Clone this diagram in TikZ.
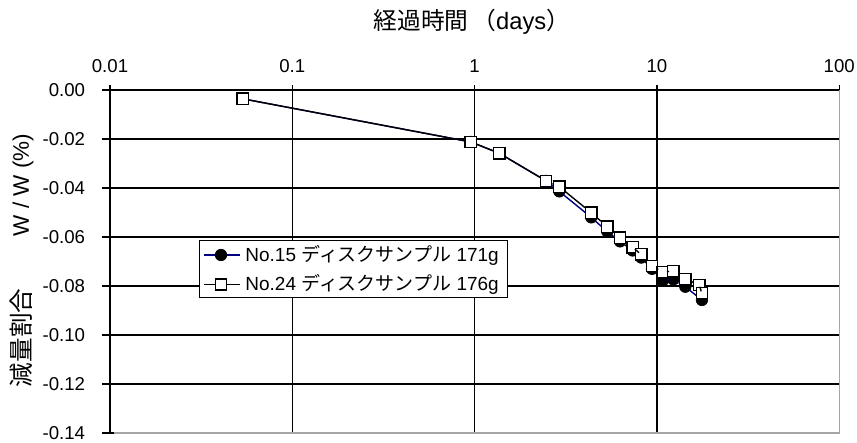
\documentclass[tikz,border=0pt]{standalone}
\usepackage{fontspec}
\setmainfont{Liberation Sans}
\newfontfamily\cjk{Noto Sans CJK JP}
\usepackage{xcolor}
\definecolor{ColA}{RGB}{0,0,128}
\definecolor{ColF}{RGB}{165,165,165}
\usepackage{tikz}
\tikzstyle{Grid}=[draw=black,line width=0.7pt]
\tikzstyle{Frame}=[draw=ColF,line width=0.8pt]
\tikzstyle{NodeC}=[circle,draw=black,fill=black,inner sep=0pt,
minimum size=0.23cm]
\tikzstyle{NodeS}=[rectangle,draw=black,fill=white,inner sep=0pt,
minimum size=0.225cm,line width=0.8pt]
\tikzstyle{EdgeA}=[draw=ColA,line width=0.8pt]
\tikzstyle{EdgeB}=[draw=black,line width=0.8pt]
\tikzstyle{NodeT}=[inner sep=0pt,font=\fontsize{10.6}{12}\selectfont]
\tikzstyle{NodeL}=[inner sep=0pt,anchor=west,font=\fontsize{10.8}{12}\selectfont]

\begin{document}
\begin{tikzpicture}[xscale=3.646,yscale=0.49]
        \useasboundingbox(-0.6034,3.673)rectangle(4.0977,-14.408);
        % grid
        \draw[Grid](0,-2)--(4,-2);
        \draw[Grid](0,-4)--(4,-4);
        \draw[Grid](0,-6)--(4,-6);
        \draw[Grid](0,-8)--(4,-8);
        \draw[Grid](0,-10)--(4,-10);
        \draw[Grid](0,-12)--(4,-12);
        \draw[Grid](1,0.2)--(1,-14);
        \draw[Grid](2,0.2)--(2,-14);
        \draw[Grid](3,0.2)--(3,-14);
        \draw[Frame](0,-14)--(4,-14)--(4,0);
        \draw[Grid](0,0.2)--(0,-14);
        \draw[Grid](4,0.2)--(4,0);
        \draw[Grid](-0.045,0)--(4,0);
        \draw[Grid](-0.045,-2)--(0,-2);
        \draw[Grid](-0.045,-4)--(0,-4);
        \draw[Grid](-0.045,-6)--(0,-6);
        \draw[Grid](-0.045,-8)--(0,-8);
        \draw[Grid](-0.045,-10)--(0,-10);
        \draw[Grid](-0.045,-12)--(0,-12);
        \draw[Grid](-0.045,-14)--(0.02,-14);
        % axis labels
        \node[NodeT](x0)at(0,0.98){0.01};
        \node[NodeT](x1)at(1,0.98){0.1};
        \node[NodeT](x2)at(2,0.98){1};
        \node[NodeT](x3)at(3,0.98){10};
        \node[NodeT](x4)at(4,0.98){100};
        \node[NodeT,anchor=east](y0)at(-0.135,0){0.00};
        \node[NodeT,anchor=east](y2)at(-0.135,-2){-0.02};
        \node[NodeT,anchor=east](y4)at(-0.135,-4){-0.04};
        \node[NodeT,anchor=east](y6)at(-0.135,-6){-0.06};
        \node[NodeT,anchor=east](y8)at(-0.135,-8){-0.08};
        \node[NodeT,anchor=east](y10)at(-0.135,-10){-0.10};
        \node[NodeT,anchor=east](y12)at(-0.135,-12){-0.12};
        \node[NodeT,anchor=east](y14)at(-0.135,-14){-0.14};
        \node[inner sep=0pt,font=\fontsize{13.5}{15}\selectfont](xt)at(1.985,2.776)
            {{\cjk 経過時間\,（}days{\cjk ）}};
        \node[inner sep=0pt,rotate=90,font=\fontsize{12.8}{14}\selectfont](yt)
            at(-0.477,-3.88){W / W (\%)};
        \node[inner sep=0pt,rotate=90,font=\fontsize{14}{16}\selectfont\cjk](yu)
            at(-0.488,-10.12){減量割合};
        % No.15
        \node[NodeC](b1)at(0.728,-0.36){};
        \node[NodeC](b2)at(1.979,-2.12){};
        \node[NodeC](b3)at(2.135,-2.58){};
        \node[NodeC](b4)at(2.392,-3.71){};
        \node[NodeC](b5)at(2.465,-4.14){};
        \node[NodeC](b6)at(2.640,-5.20){};
        \node[NodeC](b7)at(2.728,-5.78){};
        \node[NodeC](b8)at(2.798,-6.18){};
        \node[NodeC](b9)at(2.867,-6.55){};
        \node[NodeC](b10)at(2.914,-6.84){};
        \node[NodeC](b11)at(2.973,-7.30){};
        \node[NodeC](b12)at(3.032,-7.78){};
        \node[NodeC](b13)at(3.090,-7.73){};
        \node[NodeC](b14)at(3.156,-8.03){};
        \node[NodeC](b15)at(3.247,-8.57){};
        \draw[EdgeA](b1)--(b2);
        \draw[EdgeA](b2)--(b3);
        \draw[EdgeA](b3)--(b4);
        \draw[EdgeA](b4)--(b5);
        \draw[EdgeA](b5)--(b6);
        \draw[EdgeA](b6)--(b7);
        \draw[EdgeA](b7)--(b8);
        \draw[EdgeA](b8)--(b9);
        \draw[EdgeA](b9)--(b10);
        \draw[EdgeA](b10)--(b11);
        \draw[EdgeA](b11)--(b12);
        \draw[EdgeA](b12)--(b13);
        \draw[EdgeA](b13)--(b14);
        \draw[EdgeA](b14)--(b15);
        % No.24
        \node[NodeS](a1)at(0.728,-0.36){};
        \node[NodeS](a2)at(1.979,-2.12){};
        \node[NodeS](a3)at(2.135,-2.58){};
        \node[NodeS](a4)at(2.392,-3.71){};
        \node[NodeS](a5)at(2.465,-3.95){};
        \node[NodeS](a6)at(2.640,-5.01){};
        \node[NodeS](a7)at(2.728,-5.58){};
        \node[NodeS](a8)at(2.798,-6.03){};
        \node[NodeS](a9)at(2.867,-6.42){};
        \node[NodeS](a10)at(2.914,-6.71){};
        \node[NodeS](a11)at(2.973,-7.18){};
        \node[NodeS](a12)at(3.032,-7.43){};
        \node[NodeS](a13)at(3.090,-7.39){};
        \node[NodeS](a14)at(3.156,-7.71){};
        \node[NodeS](a15)at(3.233,-7.96){};
        \node[NodeS](a16)at(3.247,-8.29){};
        \draw[EdgeB](a1)--(a2);
        \draw[EdgeB](a2)--(a3);
        \draw[EdgeB](a3)--(a4);
        \draw[EdgeB](a4)--(a5);
        \draw[EdgeB](a5)--(a6);
        \draw[EdgeB](a6)--(a7);
        \draw[EdgeB](a7)--(a8);
        \draw[EdgeB](a8)--(a9);
        \draw[EdgeB](a9)--(a10);
        \draw[EdgeB](a10)--(a11);
        \draw[EdgeB](a11)--(a12);
        \draw[EdgeB](a12)--(a13);
        \draw[EdgeB](a13)--(a14);
        \draw[EdgeB](a14)--(a15);
        \draw[EdgeB](a15)--(a16);
        % legend
        \draw[draw=black,fill=white,line width=0.5pt](0.488,-6.122)rectangle(2.178,-8.449);
        \coordinate(la1)at(0.516,-6.735);
        \coordinate(la2)at(0.713,-6.735);
        \coordinate(lb1)at(0.516,-7.94);
        \coordinate(lb2)at(0.713,-7.94);
        \draw[EdgeA](la1)--(la2);
        \draw[EdgeB](lb1)--(lb2);
        \node[NodeC](lma)at(0.609,-6.735){};
        \node[NodeS](lmb)at(0.609,-7.94){};
        \node[NodeL](lta)at(0.741,-6.735){No.15 {\cjk ディスクサンプル} 171g};
        \node[NodeL](ltb)at(0.741,-7.94){No.24 {\cjk ディスクサンプル} 176g};
    \end{tikzpicture}
\end{document}
